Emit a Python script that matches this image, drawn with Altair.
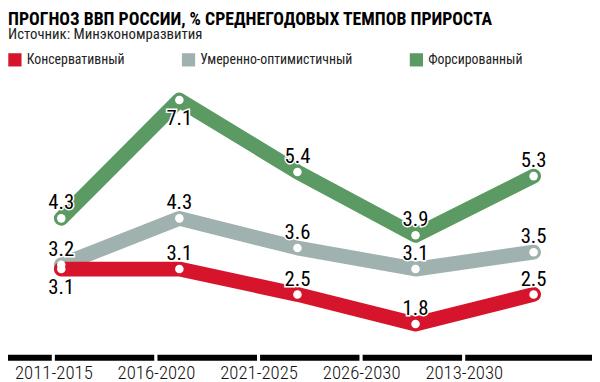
import altair as alt
import pandas as pd

periods = ["2011-2015", "2016-2020", "2021-2025", "2026-2030", "2013-2030"]
series_names = ["Консервативный", "Умеренно-оптимистичный", "Форсированный"]
conservative = [3.1, 3.1, 2.5, 1.8, 2.5]
moderate = [3.2, 4.3, 3.6, 3.1, 3.5]
forced = [4.3, 7.1, 5.4, 3.9, 5.3]
colors = ["#D6152C", "#A0B2AF", "#5B9A63"]

title_text = "ПРОГНОЗ ВВП РОССИИ, % СРЕДНЕГОДОВЫХ ТЕМПОВ ПРИРОСТА"
subtitle_text = "Источник: Минэкономразвития"

rows = []
for name, vals in zip(series_names, [conservative, moderate, forced]):
    for i, (p, v) in enumerate(zip(periods, vals)):
        rows.append({"series": name, "period": p, "idx": i, "value": v})
df = pd.DataFrame(rows)

seg_start = [-0.5] + list(range(len(periods)))
seg_end = list(range(len(periods))) + [5.3]
seg_df = pd.DataFrame({"a": seg_start, "b": seg_end})

FONT = "Roboto Condensed, Liberation Sans Narrow, DejaVu Sans Condensed, Roboto"

xl = alt.X("idx:Q", scale=alt.Scale(domain=[-0.4511, 4.4946], nice=False, zero=False), axis=None)
yl = alt.Y("value:Q", scale=alt.Scale(domain=[1.0, 9.22], nice=False, zero=False), axis=None)
cscale = alt.Scale(domain=series_names, range=colors)
color_leg = alt.Color("series:N", scale=cscale,
                      legend=alt.Legend(orient="none", legendX=0, legendY=43, direction="horizontal",
                                        title=None, symbolType="square", symbolSize=180,
                                        symbolStrokeWidth=0, labelFontSize=14, labelFont=FONT,
                                        labelColor="#222", columnPadding=57, labelOffset=5, padding=0,
                                        labelLimit=400))
color_nol = alt.Color("series:N", scale=cscale, legend=None)

base = alt.Chart(df).encode(x=xl, y=yl)

legend_layer = base.transform_filter("false").mark_square(filled=True, opacity=1).encode(color=color_leg)

lines = alt.layer(*[
    base.transform_filter(alt.datum.series == s).mark_line(
        strokeWidth=15, strokeCap="round", strokeJoin="round").encode(color=color_nol)
    for s in reversed(series_names)
])

points = base.mark_point(filled=True, color="white", opacity=1, size=75)

below = "(datum.series == 'Консервативный' && datum.idx == 0) || datum.value == 7.1"
lab_above = base.transform_filter("!(" + below + ")")
lab_below = base.transform_filter(below)

def labels(b, dy):
    halo = b.mark_text(dy=dy, fontSize=21, font=FONT, baseline="alphabetic",
                       stroke="white", strokeWidth=3, fill="white").encode(text=alt.Text("value:Q", format=".1f"))
    txt = b.mark_text(dy=dy, fontSize=21, font=FONT, baseline="alphabetic",
                      color="black").encode(text=alt.Text("value:Q", format=".1f"))
    return halo + txt

label_expr = "[" + ",".join("'" + p + "'" for p in periods) + "][datum.value]"
segs = alt.Chart(seg_df).mark_rect(color="black", stroke="white", strokeWidth=3).encode(
    x=alt.X("a:Q", scale=alt.Scale(domain=[-0.44231, 5.25], nice=False, zero=False),
            axis=alt.Axis(values=list(range(len(periods))), labelExpr=label_expr, domain=False,
                          ticks=False, grid=False, labelFontSize=19, labelFont=FONT,
                          labelFontWeight=300, labelColor="#111", labelPadding=6, title=None)),
    x2="b:Q",
    y=alt.value(347.5), y2=alt.value(356.5),
)

chart = alt.layer(
    legend_layer, segs, lines, points, labels(lab_above, -9), labels(lab_below, 25)
).resolve_scale(x="independent").properties(
    width=592, height=352,
    autosize=alt.AutoSizeParams(type="none"),
    padding={"left": 0, "top": 0, "right": 0, "bottom": 22},
    title=alt.TitleParams(text=title_text, subtitle=subtitle_text, anchor="start", frame="group",
                          font=FONT, fontSize=18, fontWeight="bold", color="#000",
                          subtitleFont=FONT, subtitleFontSize=15, subtitleColor="#222",
                          subtitlePadding=-2, offset=0, dy=32),
).configure_view(stroke=None)

chart.save("out.html", embed_options={"renderer": "svg", "actions": False})
